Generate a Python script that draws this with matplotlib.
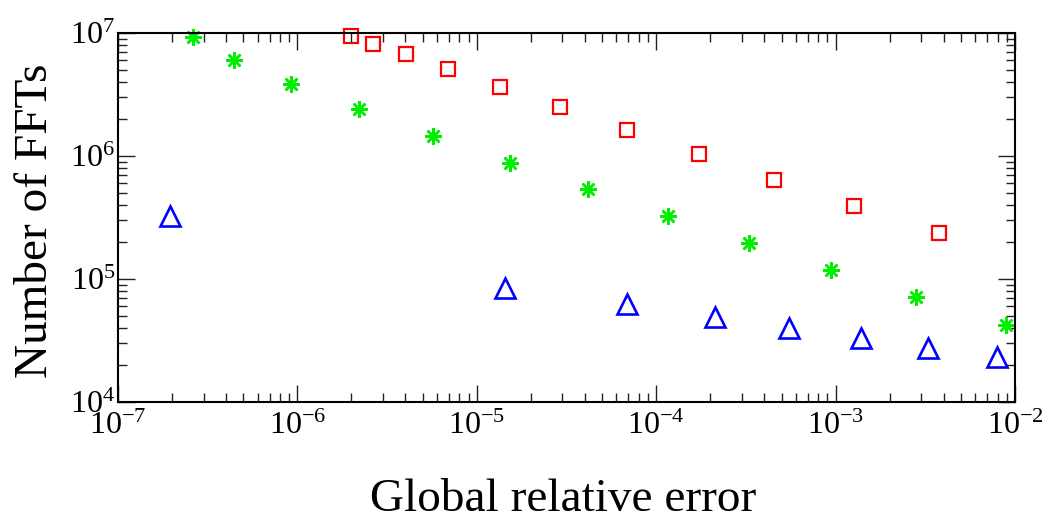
import numpy as np
import matplotlib
matplotlib.use("Agg")
import matplotlib.pyplot as plt

plt.rcParams['font.family'] = ['Liberation Serif', 'DejaVu Serif']
plt.rcParams['mathtext.fontset'] = 'custom'
plt.rcParams['mathtext.rm'] = 'Liberation Serif'
plt.rcParams['mathtext.it'] = 'Liberation Serif:italic'
plt.rcParams['mathtext.bf'] = 'Liberation Serif:bold'

# red squares
err_red = [1.98e-6, 2.65e-6, 4.03e-6, 6.95e-6, 1.35e-5, 2.92e-5, 6.89e-5,
           1.73e-4, 4.55e-4, 1.26e-3, 3.75e-3]
fft_red = [9.45e6, 8.18e6, 6.71e6, 5.10e6, 3.64e6, 2.52e6, 1.63e6,
           1.03e6, 6.34e5, 3.92e5, 2.38e5]

# green asterisks
err_green = [2.62e-7, 4.45e-7, 9.23e-7, 2.20e-6, 5.70e-6, 1.53e-5, 4.19e-5,
             1.16e-4, 3.28e-4, 9.46e-4, 2.80e-3, 8.91e-3]
fft_green = [9.27e6, 6.03e6, 3.85e6, 2.40e6, 1.46e6, 8.85e5, 5.40e5,
             3.25e5, 1.95e5, 1.18e5, 7.14e4, 4.26e4]

# blue triangles
err_blue = [1.94e-7, 1.44e-5, 6.89e-5, 2.14e-4, 5.48e-4, 1.38e-3, 3.27e-3, 7.93e-3]
fft_blue = [3.27e5, 8.49e4, 6.22e4, 4.94e4, 4.02e4, 3.31e4, 2.76e4, 2.32e4]

fig = plt.figure(figsize=(10.57, 5.21), dpi=100)
ax = fig.add_axes([118/1057, 1 - 402/521, 897/1057, 369/521])

ax.plot(err_red, fft_red, ls='none', marker='s', ms=10, mfc='none',
        mec='#ff0000', mew=1.6, clip_on=False)
ax.plot(err_green, fft_green, ls='none', marker=(8, 2, 0), ms=12,
        mec='#00ee00', mfc='#00ee00', mew=1.8, clip_on=False)
ax.plot(err_blue, fft_blue, ls='none', marker='^', ms=14, mfc='none',
        mec='#0000ff', mew=1.9, clip_on=False)

ax.set_xscale('log')
ax.set_yscale('log')
ax.set_xlim(1e-7, 1e-2)
ax.set_ylim(1e4, 1e7)

for s in ax.spines.values():
    s.set_linewidth(1.5)

ax.tick_params(which='both', direction='in', top=True, right=True, width=1.0, color='#222222')
ax.tick_params(which='major', length=12)
ax.tick_params(which='minor', length=6.5)
ax.tick_params(axis='x', which='major', labelsize=23, pad=7)
ax.tick_params(axis='y', which='major', labelsize=23, pad=2)

fig.text(563/1057, 1 - 511/521, 'Global relative error', fontsize=34,
         ha='center', va='baseline')
fig.text(47/1057, 1 - 221/521, 'Number of FFTs', fontsize=34, rotation=90,
         rotation_mode='anchor', ha='center', va='baseline')

fig.savefig('out.png', dpi=100)
